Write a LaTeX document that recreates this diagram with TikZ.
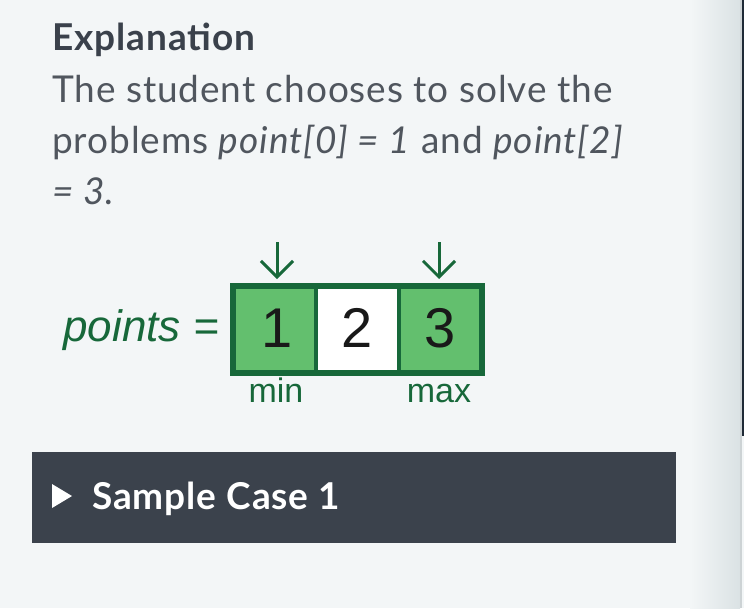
\documentclass[tikz,border=0pt]{standalone}
\usepackage{fontspec}
\setmainfont{Lato}[LetterSpace=2.5]
\newfontfamily\arialf{Liberation Sans}
\usetikzlibrary{arrows.meta}
\definecolor{bgc}{HTML}{F3F6F7}
\definecolor{edgec}{HTML}{DAE2E4}
\definecolor{darkline}{HTML}{1F2A36}
\definecolor{headc}{HTML}{3A414B}
\definecolor{bodyc}{HTML}{50565E}
\definecolor{grn}{HTML}{17683A}
\definecolor{cellg}{HTML}{63BF6E}
\definecolor{barc}{HTML}{3B424C}
\tikzset{
  heading/.style={anchor=base west, inner sep=0pt, text=headc, font=\fontsize{37}{37}\selectfont\bfseries},
  bodytxt/.style={anchor=base west, inner sep=0pt, text=bodyc, font=\fontsize{37}{37}\selectfont},
  cell/.style={draw=grn, line width=3.6pt, minimum width=82pt, minimum height=85pt, inner sep=0pt},
  digit/.style={anchor=base, inner sep=0pt, text=black!90, font=\arialf\fontsize{56}{56}\selectfont},
  lbl/.style={anchor=base, inner sep=0pt, text=grn, font=\arialf\fontsize{34}{34}\selectfont},
  downarrow/.style={draw=grn, line width=3pt, -{Straight Barb[length=16pt,width=32pt]}},
}
\begin{document}
\begin{tikzpicture}[x=1pt,y=-1pt]
\useasboundingbox (0,0) rectangle (744,608);
\fill[bgc] (0,0) rectangle (744,608);
\shade[left color=bgc, right color=edgec] (690,0) rectangle (740,608);
\fill[edgec!85!gray] (740,0) rectangle (742,608);
\fill[darkline] (742,0) rectangle (744,436);
\fill[bgc] (742,436) rectangle (744,608);

% text
\node[heading] (h) at (52,50) {Explanation};
\node[bodytxt] (l1) at (52,102) {The student chooses to solve the};
\node[bodytxt] (l2) at (52,153) {problems \textit{point[0] = 1} and \textit{point[2]}};
\node[bodytxt] (l3) at (52,204) {\textit{= 3.}};

% array
\node[cell, fill=cellg] (c1) at (275,329.5) {};
\node[cell, fill=white] (c2) at (357.5,329.5) {};
\node[cell, fill=cellg] (c3) at (440,329.5) {};
\draw[grn, line width=3.6pt] (c1.north west) rectangle (c3.south east);
\node[digit] (d1) at (277,347) {1};
\node[digit] (d2) at (357.5,347) {2};
\node[digit] (d3) at (440,347) {3};
\node[anchor=base east, inner sep=0pt, text=grn, font=\arialf\itshape\fontsize{44}{44}\selectfont] (pts) at (219,341) {points =};
\node[lbl] (mn) at (276,402) {min};
\node[lbl] (mx) at (439,402) {max};

% arrows
\coordinate (a1) at (277,242);
\coordinate (a1e) at (277,279);
\coordinate (a3) at (439,242);
\coordinate (a3e) at (439,279);
\draw[downarrow] (a1) -- (a1e);
\draw[downarrow] (a3) -- (a3e);

% sample case bar
\node[fill=barc, minimum width=644pt, minimum height=91pt, inner sep=0pt, anchor=north west] (bar) at (32,452) {};
\fill[white] (52,484) -- (72,496) -- (52,508) -- cycle;
\node[anchor=base west, inner sep=0pt, text=white, font=\fontsize{37}{37}\selectfont\bfseries] (sc) at (92,509) {Sample Case 1};
\end{tikzpicture}
\end{document}
